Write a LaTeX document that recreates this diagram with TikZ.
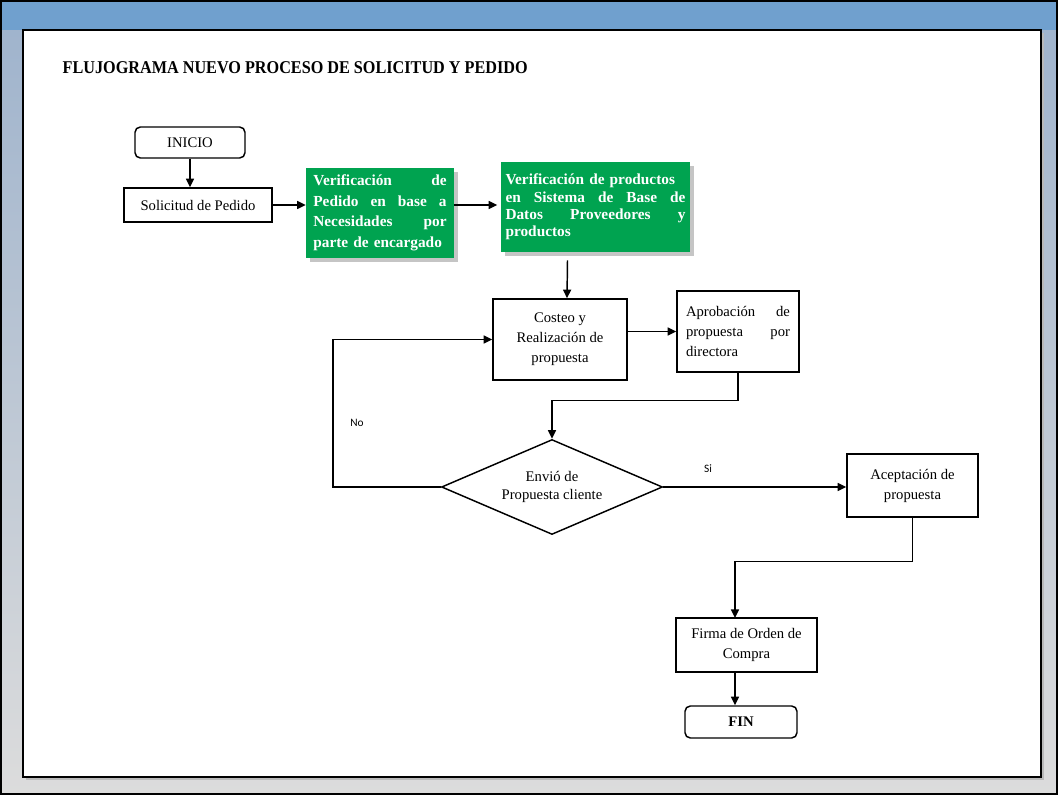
\documentclass[tikz,border=0pt]{standalone}
\usepackage{fontspec}
\setmainfont{Liberation Serif}
\newfontfamily\titulofont[FakeStretch=0.9]{Liberation Serif}
\newfontfamily\etiqfont{Carlito}
\usetikzlibrary{
    arrows.meta,
    calc,
    positioning,
    shapes.geometric,
    shadows
}

\definecolor{marcoazul}{RGB}{112,160,206}
\definecolor{marcolado}{RGB}{160,180,205}
\definecolor{marcogris}{RGB}{220,220,220}
\definecolor{verdeproc}{RGB}{0,163,80}

\tikzset{
    caja/.style={draw=black, line width=1.1pt, fill=white, inner sep=2pt,
        font=\fontsize{11}{15}\selectfont},
    terminal/.style={caja, rounded corners=4pt},
    cajaverde/.style={fill=verdeproc, text=white, inner sep=2pt, align=left,
        drop shadow={shadow xshift=3pt, shadow yshift=-3pt, fill=gray, opacity=0.45}},
    decision/.style={diamond, draw=black, line width=1.1pt, fill=white, aspect=2.3,
        inner sep=0pt, align=center, font=\fontsize{11}{13.5}\selectfont},
    flecha/.style={line width=1.1pt, -{Triangle[length=6.5pt,width=6pt]}},
    etiqueta/.style={font=\etiqfont\fontsize{8.5}{10}\selectfont}
}

\begin{document}
\begin{tikzpicture}[x=0.75pt, y=-0.75pt]
    \useasboundingbox (0,0) rectangle (1058,795);

    % Marco de la ventana
    \shade[top color=marcolado, bottom color=marcogris] (0,30) rectangle (1058,795);
    \fill[marcoazul] (0,0) rectangle (1058,30);
    \draw[line width=1.2pt] (1,1) rectangle (1057,794);

    % Hoja blanca
    \fill[gray!55] (26,33) rectangle (1044,780);
    \filldraw[fill=white, line width=2.2pt] (23,30) rectangle (1041,777);

    \node[anchor=west, font=\titulofont\bfseries\fontsize{13.5}{15}\selectfont] (titulo) at (58,68)
        {FLUJOGRAMA NUEVO PROCESO DE SOLICITUD Y PEDIDO};

    % Nodos del proceso
    \node[terminal, minimum width=82.5pt, minimum height=23.25pt] (inicio) at (190,142.5) {INICIO};
    \node[caja, minimum width=111pt, minimum height=25.5pt] (solicitud) at (198,205) {Solicitud de Pedido};
    \node[cajaverde, text width=100pt, minimum width=111pt, minimum height=67.5pt,
        font=\bfseries\fontsize{11.5}{15.4}\selectfont] (verifpedido) at (380,213)
        {Verificación\hfill de\\Pedido\hfill en\hfill base\hfill a\\Necesidades\hfill por\\parte de encargado};
    \node[cajaverde, text width=135pt, minimum width=142pt, minimum height=67.5pt,
        font=\bfseries\fontsize{11.5}{13}\selectfont] (verifprod) at (595.5,207)
        {Verificación de productos\\en\hfill Sistema\hfill de\hfill Base\hfill de\\Datos\hfill Proveedores\hfill y\\productos};
    \node[caja, align=center, minimum width=100.5pt, minimum height=60.75pt] (costeo) at (560,339.5)
        {Costeo y\\Realización de\\propuesta};
    \node[caja, align=left, text width=78pt, minimum width=91.5pt, minimum height=60.75pt] (aprob) at (738,331.5)
        {Aprobación\hfill de\\propuesta\hfill por\\directora};
    \node[decision, minimum width=165.75pt, minimum height=71.25pt] (envio) at (552,487)
        {Envió de\\Propuesta cliente};
    \node[caja, align=center, minimum width=98.25pt, minimum height=47.25pt] (acept) at (912.5,485.5)
        {Aceptación de\\propuesta};
    \node[caja, align=center, minimum width=105.75pt, minimum height=40.5pt] (firma) at (746.5,645)
        {Firma de Orden de\\Compra};
    \node[terminal, font=\bfseries\fontsize{11}{13}\selectfont, minimum width=84pt, minimum height=24pt] (fin) at (741,722) {FIN};

    \coordinate (colfirma) at (735,618);

    % Conexiones
    \draw[flecha] (inicio) -- (inicio |- solicitud.north);
    \draw[flecha] (solicitud) -- (verifpedido.west |- solicitud);
    \draw[flecha] (verifpedido.east |- solicitud) -- ++(43,0);
    \draw[flecha] ($(verifprod.south)+(-28,8)$) -- (costeo.north -| 567,0);
    \draw[flecha] (costeo.east |- aprob) -- (aprob.west);
    \draw[flecha] (aprob.south) -- ++(0,28) -| (envio.north);
    \draw[flecha] (envio.west) -- ++(-108,0) |- (costeo.west);
    \draw[flecha] (envio.east) -- (acept.west |- envio);
    \draw[flecha] (acept.south) -- ++(0,44) -| (colfirma);
    \draw[flecha] (colfirma |- firma.south) -- (colfirma |- fin.north);

    % Etiquetas de las ramas
    \node[etiqueta] (etqno) at (357,423) {No};
    \node[etiqueta] (etqsi) at (708,469) {Si};
\end{tikzpicture}
\end{document}
